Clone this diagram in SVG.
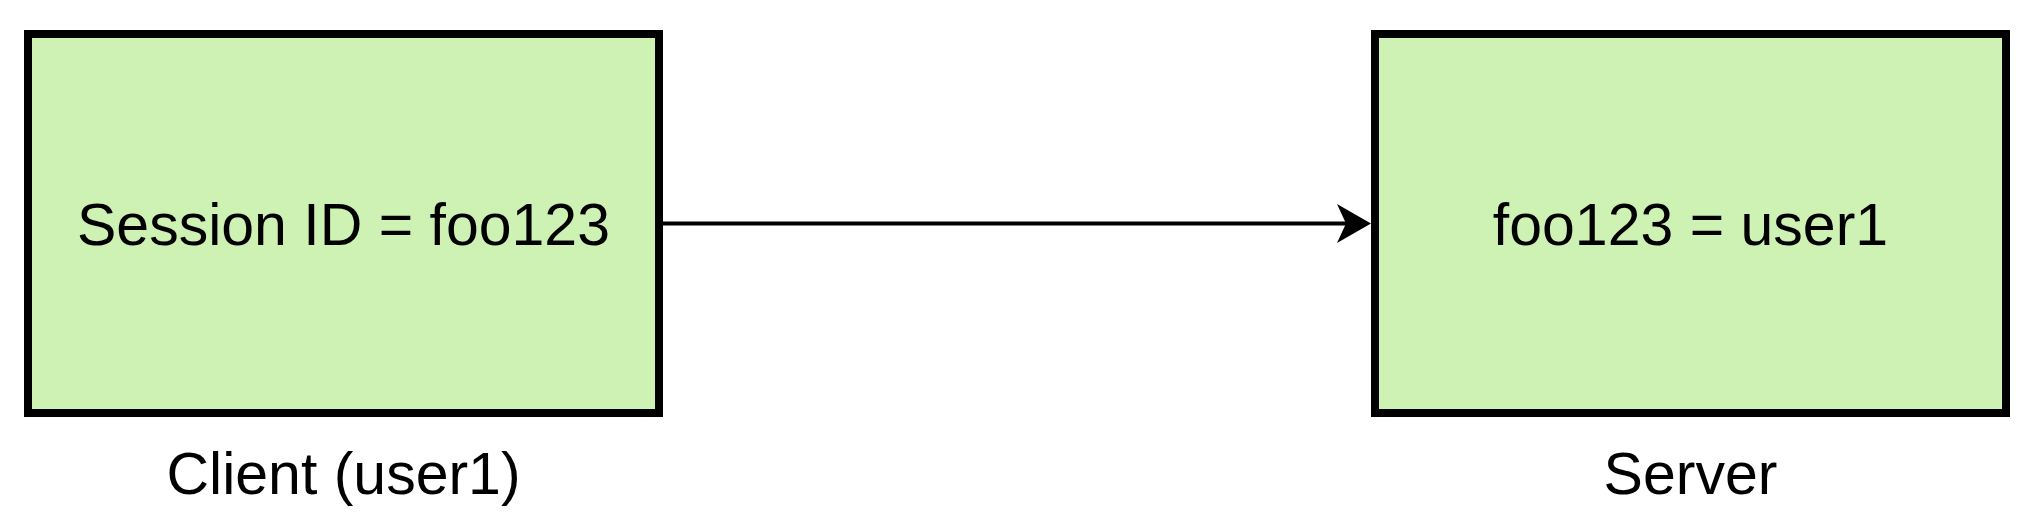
<svg xmlns="http://www.w3.org/2000/svg" width="2038" height="522" viewBox="0 0 2038 522">
<style>
.box{fill:#cdf2b3;stroke:#000;stroke-width:8}
.t{font-family:"Liberation Sans",Arial,sans-serif;font-size:59px;fill:#000;text-anchor:middle}
</style>
<rect width="2038" height="522" fill="#fff"/>
<g id="client">
<rect class="box" x="28" y="34" width="631" height="379"/>
<text class="t" x="343.5" y="245">Session ID = foo123</text>
<text class="t" x="343.5" y="494">Client (user1)</text>
</g>
<g id="server">
<rect class="box" x="1375" y="34" width="631" height="379"/>
<text class="t" x="1690.5" y="245">foo123 = user1</text>
<text class="t" x="1690.5" y="494">Server</text>
</g>
<g id="connectors">
<line x1="663" y1="223.5" x2="1348" y2="223.5" stroke="#000" stroke-width="4"/>
<polygon points="1371,223.5 1337,204 1346,223.5 1337,243" fill="#000"/>
</g>
</svg>
